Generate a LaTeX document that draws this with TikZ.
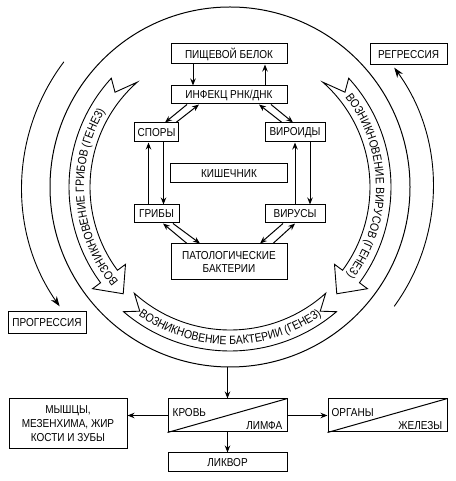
\documentclass[tikz,border=0pt]{standalone}
\usepackage{fontspec}
\setmainfont{Liberation Sans}[FakeStretch=0.87]
\usetikzlibrary{arrows.meta,decorations.text}
\newcommand\ribbonsize{\fontsize{12}{14}\selectfont}
\tikzset{
  blk/.style={draw, line width=1pt, inner sep=1pt, align=center, font=\fontsize{11.5}{13.5}\selectfont},
  lbl/.style={inner sep=0pt, font=\fontsize{11.5}{13.5}\selectfont},
  link/.style={line width=1pt, -{Stealth[length=7pt,width=5.5pt]}},
  bigarrow/.style={line width=0.9pt, -{Stealth[length=10pt,width=7pt]}},
  ribbon/.style={draw, fill=white, line width=0.9pt, line join=miter},
  ribbonlabel/.style={decorate, decoration={text along path, text align=center, text={|\ribbonsize|#1}}},
}
\begin{document}
\begin{tikzpicture}[x=1pt, y=1pt]
    \useasboundingbox (0,0) rectangle (455,481);
    \coordinate (C) at (230,294);
    \coordinate (cbot) at (227.5,114.0);

    \draw[line width=1pt] (C) circle[radius=180];
    \draw[bigarrow] ([shift={(C)}]-36:203) arc[start angle=-36, end angle=36, radius=203];
    \draw[bigarrow] ([shift={(C)}]143:208) arc[start angle=143, end angle=215, radius=208];

    \draw[ribbon] ([shift={(C)}]131.5:140) -- ([shift={(C)}]140.5:149) -- ([shift={(C)}]137.5:161)
        arc[start angle=137.5, end angle=216.5, radius=161] -- ([shift={(C)}]216.5:171)
        -- ([shift={(C)}]225:151) -- ([shift={(C)}]216.5:130) -- ([shift={(C)}]216.5:140)
        arc[start angle=216.5, end angle=131.5, radius=140] -- cycle;
    \draw[ribbon] ([shift={(C)}]48.5:140) -- ([shift={(C)}]39.5:149) -- ([shift={(C)}]42.5:161)
        arc[start angle=42.5, end angle=-36.5, radius=161] -- ([shift={(C)}]-36.5:171)
        -- ([shift={(C)}]-45:151) -- ([shift={(C)}]-36.5:130) -- ([shift={(C)}]-36.5:140)
        arc[start angle=-36.5, end angle=48.5, radius=140] -- cycle;
    \draw[ribbon] ([shift={(C)}]228:143) -- ([shift={(C)}]234:153.5) -- ([shift={(C)}]229.5:164)
        arc[start angle=229.5, end angle=310.5, radius=164] -- ([shift={(C)}]306:153.5)
        -- ([shift={(C)}]312:143) arc[start angle=312, end angle=228, radius=143] -- cycle;

    \path[ribbonlabel={ВОЗНИКНОВЕНИЕ ГРИБОВ (ГЕНЕЗ)}] ([shift={(C)}]224:146) arc[start angle=224, end angle=145, radius=146];
    \path[ribbonlabel={ВОЗНИКНОВЕНИЕ ВИРУСОВ (ГЕНЕЗ)}] ([shift={(C)}]42:146) arc[start angle=42, end angle=-41, radius=146];
    \path[ribbonlabel={ВОЗНИКНОВЕНИЕ БАКТЕРИИ (ГЕНЕЗ)}] ([shift={(C)}]229:157.5) arc[start angle=229, end angle=311, radius=157.5];

    \node[blk, minimum width=116, minimum height=20] (pishch) at (229,427) {ПИЩЕВОЙ БЕЛОК};
    \node[blk, minimum width=116, minimum height=18] (infekc) at (229,386) {ИНФЕКЦ РНК/ДНК};
    \node[blk, minimum width=44, minimum height=19] (spory) at (156.5,348.5) {СПОРЫ};
    \node[blk, minimum width=60, minimum height=19] (viroidy) at (295,348.5) {ВИРОИДЫ};
    \node[blk, minimum width=117, minimum height=19] (kishechnik) at (229,307.5) {КИШЕЧНИК};
    \node[blk, minimum width=45, minimum height=18] (griby) at (156.5,267) {ГРИБЫ};
    \node[blk, minimum width=60, minimum height=18] (virusy) at (295,267) {ВИРУСЫ};
    \node[blk, minimum width=116, minimum height=36] (patol) at (229,219) {ПАТОЛОГИЧЕСКИЕ\\БАКТЕРИИ};
    \node[blk, minimum width=77, minimum height=21] (regress) at (408.5,426.5) {РЕГРЕССИЯ};
    \node[blk, minimum width=78, minimum height=22] (progress) at (47,158) {ПРОГРЕССИЯ};

    \node[blk, minimum width=119, minimum height=33] (krov) at (227.5,65.5) {};
    \node[blk, minimum width=118, minimum height=50, font=\fontsize{11.5}{14}\selectfont] (myshcy) at (68,57) {МЫШЦЫ,\\МЕЗЕНХИМА, ЖИР\\КОСТИ И ЗУБЫ};
    \node[blk, minimum width=119, minimum height=33] (organy) at (387.5,65.5) {};
    \node[blk, minimum width=119, minimum height=19] (likvor) at (227.5,18.5) {ЛИКВОР};
    \draw[line width=1pt] (krov.south west) -- (krov.north east);
    \draw[line width=1pt] (organy.south west) -- (organy.north east);
    \node[lbl, anchor=base west] (krovtext) at ([shift={(5,-18)}]krov.north west) {КРОВЬ};
    \node[lbl, anchor=base east] (limfatext) at ([shift={(-5,2.5)}]krov.south east) {ЛИМФА};
    \node[lbl, anchor=base west] (organytext) at ([shift={(4,-18)}]organy.north west) {ОРГАНЫ};
    \node[lbl, anchor=base east] (zhelezytext) at ([shift={(-5,2.5)}]organy.south east) {ЖЕЛЕЗЫ};

    \draw[link] ([xshift=-36pt]pishch.south) -- ([xshift=-36pt]infekc.north);
    \draw[link] ([xshift=36pt]infekc.north) -- ([xshift=36pt]pishch.south);
    \draw[link] ([xshift=-42pt]infekc.south) -- ([xshift=8.5pt]spory.north);
    \draw[link] ([xshift=19.5pt]spory.north) -- ([xshift=-30pt]infekc.south);
    \draw[link] ([xshift=42pt]infekc.south) -- ([xshift=-2pt]viroidy.north);
    \draw[link] ([xshift=-13pt]viroidy.north) -- ([xshift=30pt]infekc.south);
    \draw[link] ([xshift=-8pt]griby.north) -- ([xshift=-8pt]spory.south);
    \draw[link] ([xshift=7pt]spory.south) -- ([xshift=7pt]griby.north);
    \draw[link] (virusy.north) -- (viroidy.south);
    \draw[link] ([xshift=15pt]viroidy.south) -- ([xshift=15pt]virusy.north);
    \draw[link] ([xshift=-42pt]patol.north) -- ([xshift=6.5pt]griby.south);
    \draw[link] ([xshift=16.5pt]griby.south) -- ([xshift=-29pt]patol.north);
    \draw[link] ([xshift=-12pt]virusy.south) -- ([xshift=31pt]patol.north);
    \draw[link] ([xshift=44pt]patol.north) -- (virusy.south);

    \draw[link] (cbot) -- (krov.north);
    \draw[link] (krov.west) -- (krov.west -| myshcy.east);
    \draw[link] (krov.east) -- (organy.west);
    \draw[link] (krov.south) -- (likvor.north);
\end{tikzpicture}
\end{document}
